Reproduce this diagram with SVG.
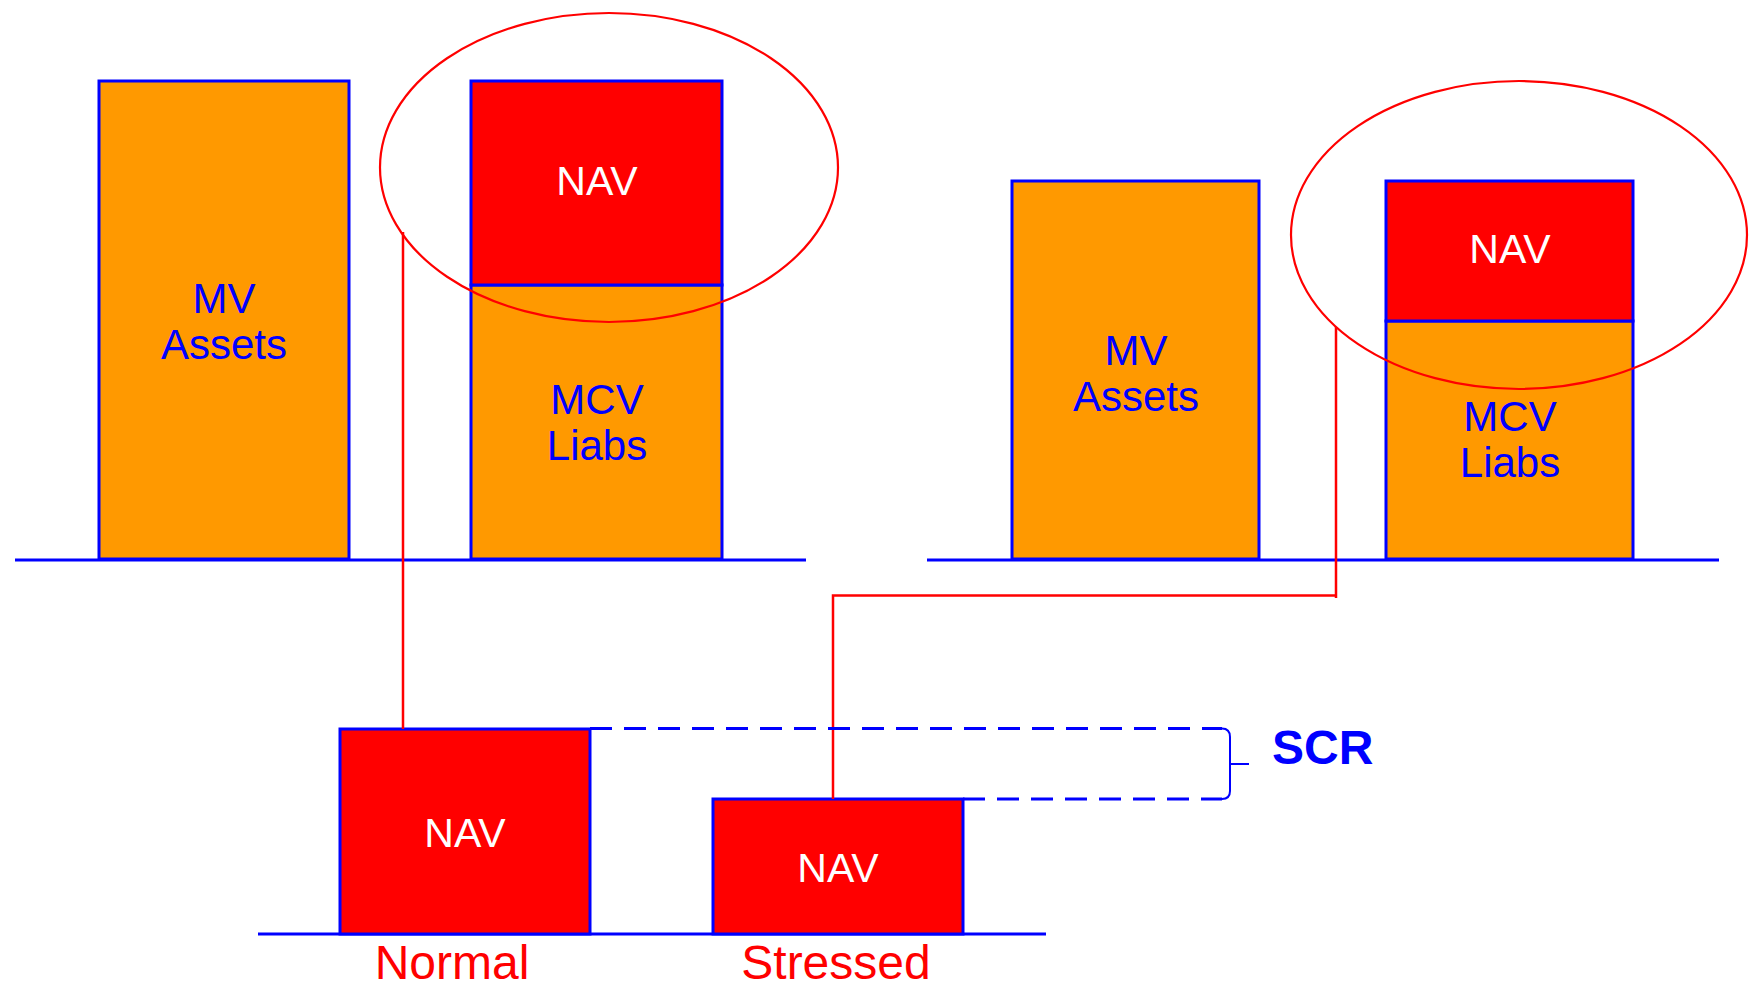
<svg xmlns="http://www.w3.org/2000/svg" width="1749" height="983" viewBox="0 0 1749 983">
  <style>
    .asset { fill: #FF9900; stroke: #0000FF; stroke-width: 3; }
    .nav { fill: #FF0000; stroke: #0000FF; stroke-width: 3; }
    .base { stroke: #0000FF; stroke-width: 3; fill: none; }
    .lbl { font-family: "Liberation Sans", Arial, sans-serif; font-size: 42px; fill: #0000FF; text-anchor: middle; }
    .navtxt { font-family: "Liberation Sans", Arial, sans-serif; font-size: 41px; fill: #FFFFFF; text-anchor: middle; }
    .cap { font-family: "Liberation Sans", Arial, sans-serif; font-size: 48px; fill: #FF0000; text-anchor: middle; }
    .ring { fill: none; stroke: #FF0000; stroke-width: 2.2; }
    .link { fill: none; stroke: #FF0000; stroke-width: 2.5; }
    .dash { fill: none; stroke: #0000FF; stroke-width: 3; stroke-dasharray: 22 12; }
  </style>
  <rect width="1749" height="983" fill="#FFFFFF"/>

  <!-- baselines -->
  <g id="baselines">
    <line class="base" x1="15" y1="560" x2="806" y2="560"/>
    <line class="base" x1="927" y1="560" x2="1719" y2="560"/>
    <line class="base" x1="258" y1="934" x2="1046" y2="934"/>
  </g>

  <!-- normal balance sheet -->
  <g id="normal-assets">
    <rect class="asset" x="99" y="81" width="250" height="478"/>
    <text class="lbl" x="224" y="313">MV</text>
    <text class="lbl" x="224" y="359">Assets</text>
  </g>
  <g id="normal-liabs">
    <rect class="asset" x="471" y="285" width="251" height="274"/>
    <text class="lbl" x="597" y="414">MCV</text>
    <text class="lbl" x="597" y="460">Liabs</text>
  </g>
  <g id="normal-nav-top">
    <rect class="nav" x="471" y="81" width="251" height="204"/>
    <text class="navtxt" x="597" y="195">NAV</text>
  </g>

  <!-- stressed balance sheet -->
  <g id="stressed-assets">
    <rect class="asset" x="1012" y="181" width="247" height="378"/>
    <text class="lbl" x="1136" y="365">MV</text>
    <text class="lbl" x="1136" y="411">Assets</text>
  </g>
  <g id="stressed-liabs">
    <rect class="asset" x="1386" y="321" width="247" height="238"/>
    <text class="lbl" x="1510" y="431">MCV</text>
    <text class="lbl" x="1510" y="477">Liabs</text>
  </g>
  <g id="stressed-nav-top">
    <rect class="nav" x="1386" y="181" width="247" height="140"/>
    <text class="navtxt" x="1510" y="263">NAV</text>
  </g>

  <!-- highlight rings -->
  <g id="ring-normal">
    <ellipse class="ring" cx="609" cy="167.5" rx="229" ry="154.5"/>
  </g>
  <g id="ring-stressed">
    <ellipse class="ring" cx="1519" cy="235" rx="228" ry="154"/>
  </g>

  <!-- NAV comparison -->
  <g id="nav-normal">
    <rect class="nav" x="340" y="729" width="250" height="205"/>
    <text class="navtxt" x="465" y="847">NAV</text>
  </g>
  <g id="nav-stressed">
    <rect class="nav" x="713" y="799" width="250" height="135"/>
    <text class="navtxt" x="838" y="882">NAV</text>
  </g>
  <g id="caption-normal">
    <text class="cap" x="452" y="979">Normal</text>
  </g>
  <g id="caption-stressed">
    <text class="cap" x="836" y="979">Stressed</text>
  </g>

  <!-- connectors -->
  <g id="connectors">
    <path class="link" d="M403 232 V729"/>
    <path class="link" d="M1336 327 V598 M1337 595.5 H833 V799"/>
    <path class="dash" d="M590 728.5 H1222"/>
    <path class="dash" d="M963 799 H1222"/>
    <path fill="none" stroke="#0000FF" stroke-width="2" d="M1222 728.5 Q1230 728.5 1230 737 V791 Q1230 799 1222 799 M1230 764 H1249"/>
  </g>

  <g id="scr-label">
    <text x="1272" y="764" font-family="'Liberation Sans', Arial, sans-serif" font-size="48" font-weight="bold" fill="#0000FF">SCR</text>
  </g>
</svg>
